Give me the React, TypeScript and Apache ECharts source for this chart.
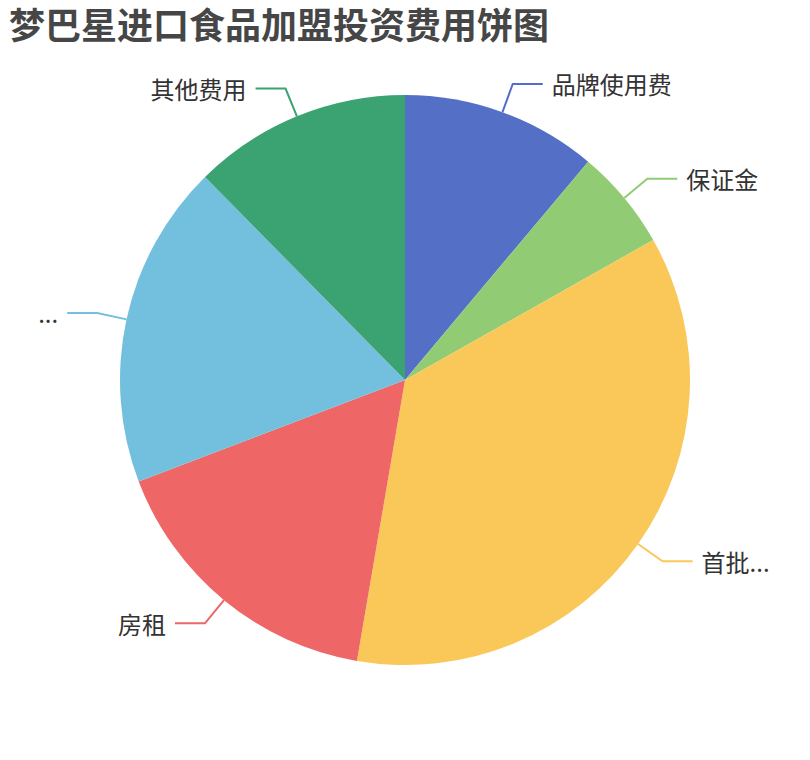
import { useEffect, useRef } from "react";
import * as echarts from "echarts";

const titleText = "梦巴星进口食品加盟投资费用饼图";
const costNames = ["品牌使用费", "保证金", "首批进货费", "房租", "装修设备费", "其他费用"];
const costValues = [3.5, 1.8, 11.3, 5.2, 5.8, 3.9];
const sliceColors = ["#5470c6", "#91cc75", "#fac858", "#ee6666", "#73c0de", "#3ba272"];

const FONT = "'Noto Sans CJK SC', 'Noto Sans', sans-serif";

export default function App() {
  const chartRef = useRef<HTMLDivElement | null>(null);

  useEffect(() => {
    document.body.style.margin = "0";
    if (!chartRef.current) return;
    const chart = echarts.init(chartRef.current, undefined, { renderer: "svg" });
    chart.setOption({
      animation: false,
      color: sliceColors,
      title: {
        text: titleText,
        left: 4,
        top: 0,
        textStyle: { fontSize: 36, fontWeight: "bold", color: "#464646", fontFamily: FONT }
      },
      series: [
        {
          name: "加盟费用",
          type: "pie",
          radius: "75%",
          center: ["50%", "50%"],
          label: {
            fontSize: 24,
            color: "#333",
            fontFamily: FONT,
            bleedMargin: 30,
            distanceToLabelLine: 9
          },
          labelLine: { length: 30, length2: 30, lineStyle: { width: 2 } },
          data: costNames.map((name, i) => ({ name, value: costValues[i] }))
        }
      ]
    });
    return () => {
      chart.dispose();
    };
  }, []);

  return <div ref={chartRef} style={{ width: 810, height: 760 }} />;
}
